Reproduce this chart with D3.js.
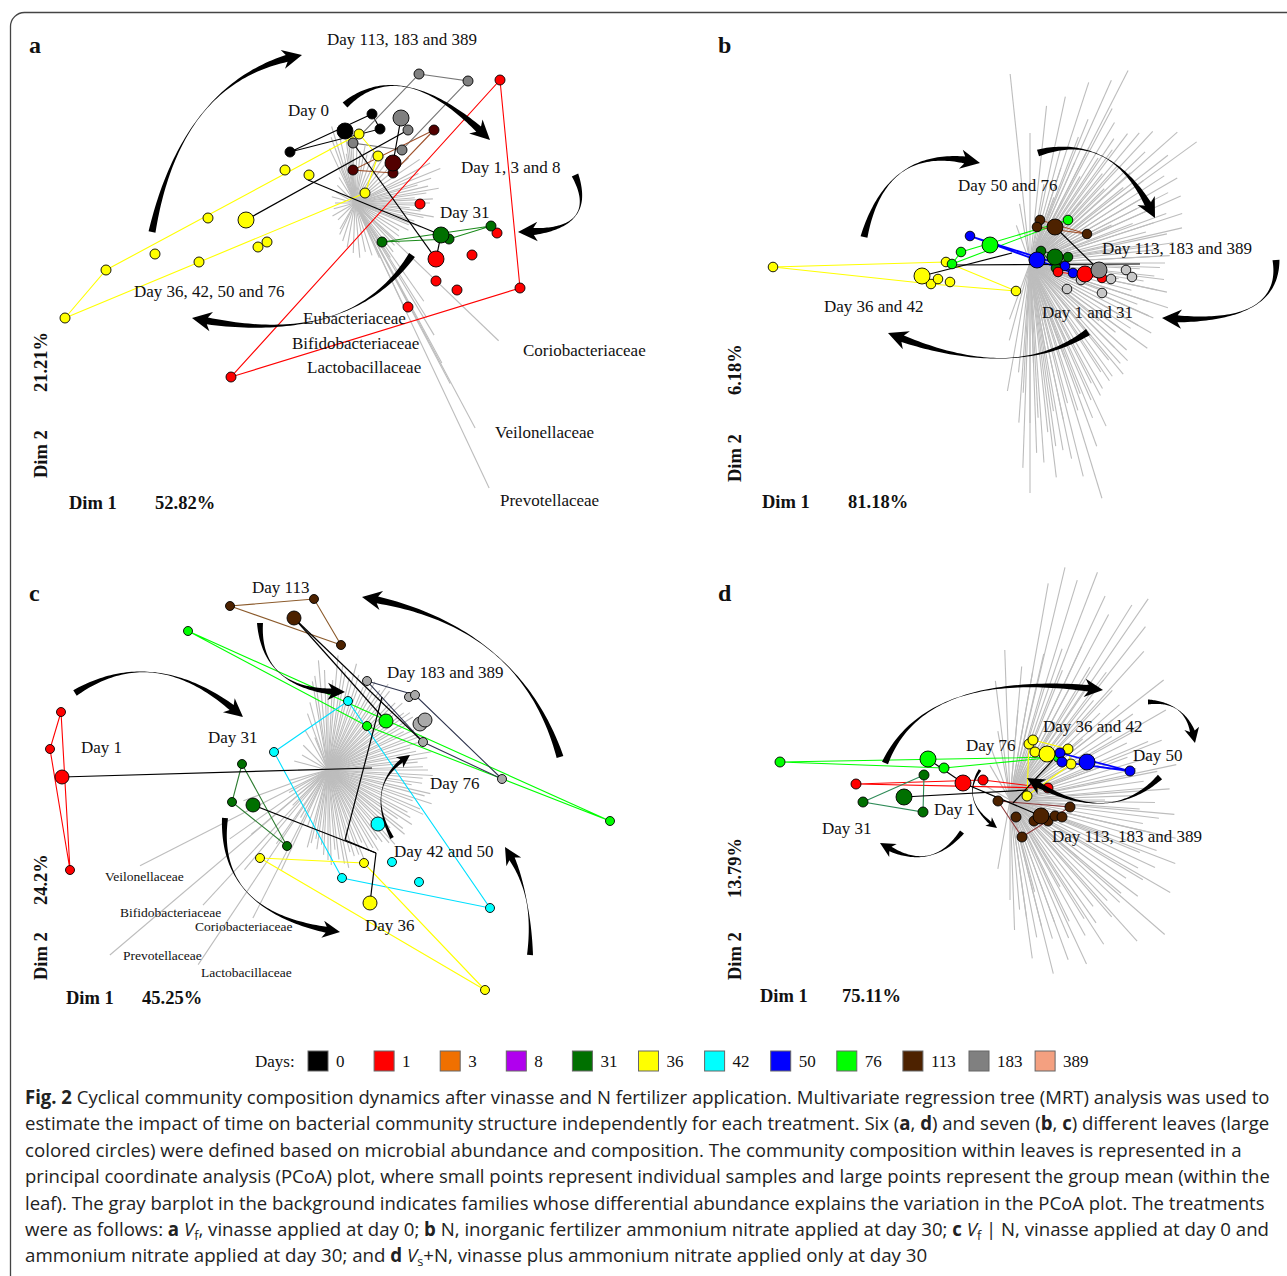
<!DOCTYPE html>
<html>
<head>
<meta charset="utf-8">
<script src="https://cdn.jsdelivr.net/npm/d3@7"></script>
<style>
body { margin: 0; background: #fff; }
text { font-family: "Liberation Serif", "Times New Roman", serif; fill: #111; }
.cap { font-family: "Open Sans", sans-serif; fill: #222; }
</style>
</head>
<body>
<svg id="fig" width="1287" height="1276"></svg>
<script>
// ---- legend levels ----
var dayLevels = ["0", "1", "3", "8", "31", "36", "42", "50", "76", "113", "183", "389"];
var dayColors = ["#000000", "#ff0000", "#f07000", "#b000ee", "#007000", "#ffff00", "#00ffff", "#0000ff", "#00ff00", "#4d2200", "#808080", "#f4a080"];

// ---- panel a : samples [day, dim1, dim2] ----
var aSamples = [
	["0", 0.14, 0.86], ["0", 0.22, 0.71], ["0", -0.68, 0.48],
	["183", 0.61, 1.26], ["183", 1.10, 1.19], ["183", 0.50, 0.70], ["183", 0.44, 0.50], ["183", -0.05, 0.57],
	["113", 0.76, 0.70], ["113", -0.05, 0.30], ["113", 0.35, 0.27],
	["36", 0.01, 0.66], ["36", 0.20, 0.44], ["36", 0.07, 0.07], ["36", -0.73, 0.30], ["36", -0.49, 0.25],
	["36", -1.50, -0.18], ["36", -2.03, -0.54], ["36", -2.52, -0.70], ["36", -2.93, -1.18], ["36", -1.59, -0.62],
	["36", -1.00, -0.47], ["36", -0.91, -0.42],
	["1", 1.42, 1.20], ["1", 0.62, -0.04], ["1", 1.39, -0.33], ["1", 1.14, -0.55], ["1", 0.78, -0.81],
	["1", 0.99, -0.90], ["1", 1.62, -0.88], ["1", 0.50, -1.07], ["1", -1.27, -1.77],
	["31", 0.24, -0.42], ["31", 1.33, -0.26], ["31", 0.91, -0.39]
];
var aMeans = [["0", -0.13, 0.69], ["183", 0.43, 0.82], ["113", 0.35, 0.37], ["36", -1.12, -0.20], ["31", 0.83, -0.35], ["1", 0.78, -0.59]];
var aHulls = [
	["0", [[0.14, 0.86], [0.22, 0.71], [-0.68, 0.48]]],
	["183", [[0.61, 1.26], [1.10, 1.19], [0.44, 0.50], [-0.05, 0.57]]],
	["113", [[0.76, 0.70], [-0.05, 0.30], [0.35, 0.27]]],
	["36", [[-2.93, -1.18], [-2.52, -0.70], [0.01, 0.66], [0.20, 0.44], [0.07, 0.07]]],
	["1", [[1.42, 1.20], [1.62, -0.88], [-1.27, -1.77]]],
	["31", [[0.24, -0.42], [1.33, -0.26], [0.91, -0.39]]]
];
var aTree = [[-1.12, -0.20, 0.50, 0.70], [-0.50, 0.20, 0.83, -0.35], [-0.05, 0.57, 0.78, -0.59], [0.43, 0.82, 0.35, 0.37], [0.78, -0.59, 0.83, -0.35]];
var aArrows = [
	[-2.06, -0.32, -1.75, 1.23, -0.56, 1.45],
	[-0.13, 0.95, 0.45, 1.47, 1.32, 0.60],
	[2.17, 0.25, 2.42, -0.33, 1.60, -0.32],
	[0.54, -0.55, -0.10, -1.50, -1.66, -1.18]
];
// family loadings [angle in degrees, length]
var aFan = [
	[92, 0.65], [96, 0.58], [88, 0.6], [100, 0.5], [84, 0.52], [104, 0.42], [80, 0.58], [76, 0.5],
	[107, 0.8], [103, 0.78], [110, 0.7], [115, 0.6], [98, 0.72], [94, 0.75],
	[70, 0.55], [64, 0.48], [58, 0.55], [52, 0.5], [46, 0.6], [40, 0.7], [34, 0.78], [28, 0.85], [22, 0.92],
	[18, 0.8], [13, 0.75], [8, 0.72], [3, 0.78], [-2, 0.7], [-7, 0.66], [-12, 0.7], [-17, 0.62], [-22, 0.58],
	[-27, 0.6], [-32, 0.52], [-37, 0.55], [-42, 0.6], [-47, 0.58], [-52, 0.62],
	[25, 0.7], [16, 0.65], [10, 0.85], [5, 0.6], [0, 0.75], [-5, 0.55], [-10, 0.8], [-15, 0.5], [-20, 0.7],
	[-57, 0.65], [-66, 0.6], [-72, 0.55], [-78, 0.5], [-85, 0.55], [-92, 0.5], [-100, 0.45], [-108, 0.4], [-116, 0.35],
	[112, 0.38], [122, 0.3], [135, 0.25], [150, 0.22], [165, 0.24], [180, 0.2], [195, 0.22], [210, 0.26], [225, 0.24], [240, 0.3],
	[-43.8, 1.99], [-61.9, 2.55], [-64.8, 3.15], [-62.2, 2.04], [-59.1, 1.54], [-61.5, 1.82], [-64.7, 1.22], [-55, 1.2], [-58, 1.35]
];

// ---- panel b ----
var bSamples = [
	["36", -2.52, -0.05], ["36", -0.79, 0.00], ["36", -0.94, -0.22], ["36", -0.87, -0.17], ["36", -0.75, -0.20], ["36", -0.09, -0.29],
	["76", -0.64, 0.10], ["76", -0.73, -0.02], ["76", 0.43, 0.42],
	["50", -0.55, 0.26], ["50", 0.40, -0.04], ["50", 0.48, -0.11],
	["31", 0.16, 0.11], ["31", 0.43, 0.05], ["31", 0.31, -0.06],
	["1", 0.33, -0.10], ["1", 0.77, -0.16],
	["113", 0.15, 0.42], ["113", 0.12, 0.35], ["113", 0.62, 0.28],
	["183", 1.01, -0.08], ["183", 1.07, -0.15], ["183", 0.86, -0.17], ["183", 0.42, -0.27], ["183", 0.77, -0.31], ["183", 0.56, -0.18]
];
var bMeans = [["36", -1.03, -0.14], ["76", -0.35, 0.17], ["50", 0.12, 0.02], ["31", 0.30, 0.05], ["113", 0.30, 0.35], ["1", 0.60, -0.12], ["183", 0.74, -0.08]];
var bHulls = [
	["36", [[-2.52, -0.05], [-0.79, 0.00], [-0.09, -0.29], [-0.94, -0.22]]],
	["76", [[-0.73, -0.02], [-0.64, 0.10], [0.43, 0.42]]],
	["50", [[-0.55, 0.26], [0.48, -0.11], [0.40, -0.04]]],
	["31", [[0.16, 0.11], [0.43, 0.05], [0.31, -0.06]]],
	["1", [[0.33, -0.10], [0.77, -0.16]]],
	["113", [[0.15, 0.42], [0.62, 0.28], [0.12, 0.35]]]
];
var bTree = [[-1.03, -0.14, -0.13, 0.09], [-0.74, -0.03, 1.15, -0.02], [0.30, 0.35, 0.74, -0.08]];
var bArrows = [
	[-1.61, 0.25, -1.37, 1.22, -0.45, 0.99],
	[0.13, 1.09, 0.89, 1.32, 1.30, 0.44],
	[2.51, 0.02, 2.56, -0.65, 1.37, -0.56],
	[0.63, -0.70, -0.13, -1.22, -1.37, -0.71]
];
var bFan = [
	[96, 1.9], [90, 1.3], [84, 1.58], [78, 1.7], [72, 1.9], [66, 2.0], [63, 2.16], [59, 1.64], [53, 1.62], [47, 1.8],
	[41.6, 1.97], [36, 2.06], [30, 1.7], [24, 1.65], [18, 1.6], [13, 1.56], [8, 1.45], [3, 1.4], [-2, 1.3], [-7, 1.35],
	[-12, 1.4], [-18, 1.45], [-24, 1.35], [-30, 1.4], [-36, 1.45], [-45, 1.38], [-50, 1.45], [-56, 1.42], [-62, 1.5], [-68, 1.67],
	[-73, 2.46], [-76, 2.2], [-80, 1.9], [-83, 2.16], [-86, 2.0], [-90, 2.3], [-94, 1.6], [-100, 1.3],
	[75, 1.2], [72, 1.0], [69, 1.35], [66, 1.1], [63, 1.3], [60, 1.0], [57, 1.25], [54, 1.4], [51, 1.15], [48, 1.3],
	[45, 1.05], [42, 1.35], [39, 1.2], [36, 1.4], [33, 1.1], [30, 1.3], [27, 1.2], [24, 1.35], [21, 1.1], [18, 1.3],
	[15, 1.2], [12, 1.4], [9, 1.15], [6, 1.3], [3, 1.2], [0, 1.35], [-3, 1.1], [-6, 1.25], [-9, 1.15], [-12, 1.3],
	[-15, 1.05], [-18, 1.25], [-21, 1.15], [-24, 1.3], [-27, 1.1], [-30, 1.25], [-33, 1.2], [-36, 1.3], [-39, 1.1], [-42, 1.3],
	[-45, 1.2], [-48, 1.35], [-51, 1.25], [-54, 1.4], [-57, 1.3], [-60, 1.45], [-63, 1.35], [-66, 1.5], [-69, 1.4], [-72, 1.55],
	[-75, 1.45], [-78, 1.6], [-81, 1.5], [-84, 1.7], [-87, 1.55], [-90, 1.6], [-93, 1.3], [-96, 1.1],
	[80, 0.8], [70, 0.7], [50, 0.8], [25, 0.9], [10, 0.85], [-10, 0.9], [-20, 0.8], [-40, 0.9], [-50, 0.95], [-65, 0.85],
	[-70, 1.0], [-80, 0.9], [-88, 1.0], [100, 0.6], [110, 0.4], [-105, 0.8], [-110, 0.6],
	[44, 1.6], [50, 1.7], [56, 1.5], [62, 1.75], [68, 1.55], [38, 1.75], [33, 1.6], [27, 1.55], [20, 1.45],
	[-65, 1.8], [-70, 1.95], [-78, 2.0], [-82, 1.85], [-88, 1.9], [-92, 2.05]
];

// ---- panel c ----
var cSamples = [
	["1", -2.69, 0.58], ["1", -2.80, 0.21], ["1", -2.60, -1.00],
	["113", -1.00, 1.64], ["113", -0.16, 1.71], ["113", 0.11, 1.25],
	["76", -1.42, 1.39], ["76", 0.37, 0.44], ["76", 2.80, -0.51],
	["42", 0.18, 0.69], ["42", -0.56, 0.18], ["42", 0.12, -1.08], ["42", 0.62, -0.92], ["42", 0.89, -1.12], ["42", 1.60, -1.38],
	["31", -0.88, 0.06], ["31", -0.98, -0.32], ["31", -0.43, -0.76],
	["36", -0.70, -0.88], ["36", 0.34, -0.93], ["36", 1.55, -2.20],
	["183", 0.37, 0.89], ["183", 0.79, 0.73], ["183", 0.85, 0.75], ["183", 0.93, 0.28], ["183", 1.72, -0.09]
];
var cMeans = [["1", -2.68, -0.07], ["113", -0.36, 1.52], ["76", 0.56, 0.49], ["42", 0.48, -0.54], ["31", -0.77, -0.35], ["36", 0.40, -1.33], ["183", 0.90, 0.46], ["183", 0.95, 0.50]];
var cHulls = [
	["1", [[-2.69, 0.58], [-2.80, 0.21], [-2.60, -1.00]]],
	["113", [[-1.00, 1.64], [-0.16, 1.71], [0.11, 1.25]]],
	["76", [[-1.42, 1.39], [2.80, -0.51], [0.37, 0.44]]],
	["42", [[0.18, 0.69], [-0.56, 0.18], [0.12, -1.08], [1.60, -1.38]]],
	["31", [[-0.88, 0.06], [-0.98, -0.32], [-0.43, -0.76]]],
	["36", [[-0.70, -0.88], [0.34, -0.93], [1.55, -2.20]]],
	["183", [[0.37, 0.89], [0.85, 0.75], [1.72, -0.09], [0.93, 0.28]]]
];
var cTree = [[-2.68, -0.07, 0.42, 0.02], [-0.36, 1.52, 0.56, 0.49], [-0.36, 1.52, 0.93, 0.28], [0.52, 0.73, 0.15, -0.70],
	[0.15, -0.70, 0.46, -0.83], [0.46, -0.83, 0.40, -1.33], [-0.77, -0.35, 0.46, -0.83]];
var cArrows = [
	[-2.55, 0.77, -1.73, 1.29, -0.87, 0.53],
	[-0.70, 1.47, -0.69, 0.78, 0.15, 0.78],
	[2.30, 0.13, 1.89, 1.47, 0.32, 1.73],
	[0.62, -0.68, 0.33, -0.14, 0.80, 0.15],
	[2.00, -1.85, 2.03, -1.19, 1.75, -0.77],
	[-1.05, -0.48, -1.13, -1.45, 0.10, -1.62]
];
var cFan = [
	[110, 0.6], [100, 0.9], [95, 1.1], [90, 0.8], [85, 1.15], [80, 1.0], [75, 1.1], [70, 0.85], [65, 1.0], [60, 0.9],
	[55, 1.05], [50, 0.8], [45, 0.95], [40, 0.85], [35, 1.0], [30, 0.9], [25, 0.95], [20, 1.0], [15, 0.85], [10, 1.05],
	[5, 0.9], [0, 1.0], [-5, 0.95], [-10, 0.85], [-15, 1.0], [-20, 0.9], [-25, 1.05], [-30, 0.95], [-35, 0.85], [-40, 1.0],
	[-45, 0.9], [-50, 0.95], [-55, 0.85], [-60, 0.9], [-65, 0.8], [-70, 0.9], [-75, 0.85], [-80, 0.95], [-85, 0.8], [-90, 0.9],
	[-95, 0.75], [-100, 0.7], [-105, 0.8], [-110, 0.6], [120, 0.45], [135, 0.35], [150, 0.3], [165, 0.35], [180, 0.3],
	[98, 0.95], [92, 1.0], [87, 0.9], [82, 1.05], [77, 0.95], [72, 1.0], [67, 0.9], [62, 1.0], [57, 0.95], [52, 1.0],
	[47, 0.9], [42, 1.0], [37, 0.95], [32, 1.0], [27, 0.85], [22, 0.95], [17, 1.0], [12, 0.9], [7, 1.0], [2, 0.95],
	[-3, 1.05], [-8, 0.95], [-13, 1.05], [-18, 1.09], [-23, 1.0], [-28, 0.9], [-33, 1.0], [-38, 0.95], [-43, 0.85], [-48, 1.0],
	[-53, 0.9], [-58, 0.95], [-63, 0.9], [-68, 0.95], [-73, 0.9], [-78, 1.0], [-83, 0.9], [-88, 0.95], [-93, 0.85], [-98, 0.8], [-103, 0.75],
	[112, 0.35], [105, 0.7],
	[195, 0.4], [210, 0.45], [225, 0.5], [240, 0.55], [200, 0.9], [215, 1.2], [230, 1.3], [245, 1.1], [235, 0.9], [220, 1.0],
	[207, 2.11], [227.2, 1.84], [243.1, 1.66], [220.3, 2.86], [236.3, 2.34]
];

// ---- panel d ----
var dSamples = [
	["76", -2.48, 0.28], ["76", -0.84, 0.22], ["76", 0.30, 0.33],
	["1", -1.72, 0.06], ["1", -0.45, 0.10], ["1", 0.20, 0.02],
	["31", -1.04, 0.15], ["31", -1.65, -0.12], ["31", -1.05, -0.22],
	["36", 0.01, 0.46], ["36", 0.05, 0.50], ["36", 0.07, 0.38], ["36", 0.40, 0.41], ["36", 0.43, 0.26], ["36", -0.01, -0.06],
	["50", 0.32, 0.37], ["50", 0.34, 0.28], ["50", 1.02, 0.19],
	["113", -0.30, -0.11], ["113", 0.42, -0.17], ["113", -0.12, -0.27], ["113", -0.06, -0.47], ["113", 0.06, -0.31],
	["113", 0.20, -0.31], ["113", 0.27, -0.26], ["113", 0.34, -0.27]
];
var dMeans = [["76", -1.00, 0.31], ["1", -0.65, 0.07], ["31", -1.24, -0.07], ["36", 0.19, 0.36], ["50", 0.59, 0.28], ["113", 0.13, -0.26]];
var dHulls = [
	["76", [[-2.48, 0.28], [0.30, 0.33], [-0.84, 0.22]]],
	["1", [[-1.72, 0.06], [-0.45, 0.10], [0.20, 0.02]]],
	["31", [[-1.04, 0.15], [-1.65, -0.12], [-1.05, -0.22]]],
	["36", [[0.05, 0.50], [0.40, 0.41], [0.43, 0.26], [-0.01, -0.06], [0.01, 0.46]]],
	["50", [[0.32, 0.37], [1.02, 0.19], [0.34, 0.28]]],
	["113", [[-0.30, -0.11], [0.42, -0.17], [-0.06, -0.47]]]
];
var dTree = [[-1.00, 0.31, -0.65, 0.07], [-0.65, 0.07, 0.13, -0.26], [-1.24, -0.07, 0.00, 0.00], [-0.15, -0.13, 0.25, 0.30]];
var dArrows = [
	[-1.43, 0.27, -1.02, 1.23, 0.75, 1.00],
	[1.20, 0.88, 1.61, 0.89, 1.67, 0.47],
	[1.32, 0.13, 0.79, -0.39, -0.01, 0.12],
	[-0.48, 0.20, -0.69, -0.11, -0.31, -0.38],
	[-0.66, -0.42, -0.99, -0.85, -1.48, -0.53]
];
var dFan = [
	[76.7, 2.39], [69, 2.44], [55.5, 2.44], [85, 1.34], [62, 2.1], [48, 2.0], [38, 1.95], [30, 1.8], [21.5, 1.63], [12, 1.7],
	[4, 1.6], [-5, 1.65], [-13, 1.7], [-21, 1.77], [-30, 1.85], [-41, 2.05], [-48, 1.9], [-57, 1.72], [-65, 1.81], [-70, 1.7],
	[-76, 1.79], [-82, 1.6], [-88, 1.3], [92, 1.5], [97, 1.2], [80, 2.2], [73, 2.3], [65, 2.25], [58, 2.3], [52, 2.2],
	[80, 1.3], [77, 1.5], [74, 1.2], [71, 1.6], [68, 1.4], [65, 1.7], [62, 1.3], [59, 1.55], [56, 1.4], [53, 1.6],
	[50, 1.3], [47, 1.5], [44, 1.25], [41, 1.45], [38, 1.3], [35, 1.5], [32, 1.2], [29, 1.45], [26, 1.3], [23, 1.5],
	[20, 1.25], [17, 1.45], [14, 1.3], [11, 1.5], [8, 1.35], [5, 1.4], [2, 1.25], [-1, 1.45], [-4, 1.3], [-7, 1.5],
	[-10, 1.35], [-13, 1.45], [-16, 1.3], [-19, 1.55], [-22, 1.4], [-25, 1.6], [-28, 1.45], [-31, 1.55], [-34, 1.4], [-37, 1.6],
	[-40, 1.45], [-43, 1.5], [-46, 1.4], [-49, 1.55], [-52, 1.35], [-55, 1.5], [-58, 1.4], [-61, 1.55], [-64, 1.35], [-67, 1.5],
	[-70, 1.3], [-73, 1.45], [-76, 1.3], [-79, 1.4], [-82, 1.2], [-85, 1.1], [-90, 1.0],
	[85, 0.9], [60, 0.9], [40, 0.95], [20, 1.0], [0, 0.95], [-20, 1.0], [-40, 0.9], [-60, 1.0], [-75, 0.95],
	[100, 0.7], [110, 0.55], [120, 0.4], [-100, 0.7], [150, 0.3]
];

// ---- caption ----
var capLines = [
	[["Fig. 2", "b"], [" Cyclical community composition dynamics after vinasse and N fertilizer application. Multivariate regression tree (MRT) analysis was used to", ""]],
	[["estimate the impact of time on bacterial community structure independently for each treatment. Six (", ""], ["a", "b"], [", ", ""], ["d", "b"], [") and seven (", ""], ["b", "b"], [", ", ""], ["c", "b"], [") different leaves (large", ""]],
	[["colored circles) were defined based on microbial abundance and composition. The community composition within leaves is represented in a", ""]],
	[["principal coordinate analysis (PCoA) plot, where small points represent individual samples and large points represent the group mean (within the", ""]],
	[["leaf). The gray barplot in the background indicates families whose differential abundance explains the variation in the PCoA plot. The treatments", ""]],
	[["were as follows: ", ""], ["a", "b"], [" ", ""], ["V", "i"], ["f", "s"], [", vinasse applied at day 0; ", ""], ["b", "b"], [" N, inorganic fertilizer ammonium nitrate applied at day 30; ", ""], ["c", "b"], [" ", ""], ["V", "i"], ["f", "s"], [" | N, vinasse applied at day 0 and", ""]],
	[["ammonium nitrate applied at day 30; and ", ""], ["d", "b"], [" ", ""], ["V", "i"], ["s", "s"], ["+N, vinasse plus ammonium nitrate applied only at day 30", ""]]
];

// ---- layout ----
var panels = [
	{id: "a", cx: 358, cy: 200, fan0: [-0.03, -0.03], samples: aSamples, means: aMeans, hulls: aHulls, tree: aTree, arrows: aArrows, fan: aFan,
		aw: [7, 7, 7, 7], r: 5, R: 8,
		pt: {"113": "#520000"}, mn: {"113": "#520000", "183": "#808080"}, hc: {"113": "#a0522d", "183": "#777777", "31": "#1a8a1a"}},
	{id: "b", cx: 1025, cy: 262, fan0: [0.05, -0.01], samples: bSamples, means: bMeans, hulls: bHulls, tree: bTree, arrows: bArrows, fan: bFan,
		aw: [7, 7, 7, 7], r: 4.8, R: 8,
		pt: {"183": "#c8c8c8"}, mn: {"183": "#8c8c8c"}, hc: {"113": "#a0522d"}},
	{id: "c", cx: 330, cy: 770, fan0: [-0.02, 0], samples: cSamples, means: cMeans, hulls: cHulls, tree: cTree, arrows: cArrows, fan: cFan,
		aw: [6.5, 6, 7, 4, 6, 6], r: 4.5, R: 7,
		pt: {"183": "#a9a9a9"}, mn: {"183": "#a9a9a9"}, hc: {"183": "#30364f", "31": "#2e7d32", "113": "#8b5a2b", "42": "#00e0ff"}},
	{id: "d", cx: 1028, cy: 790, fan0: [-0.18, -0.10], samples: dSamples, means: dMeans, hulls: dHulls, tree: dTree, arrows: dArrows, fan: dFan,
		aw: [6.5, 5, 6, 3, 5], r: 5, R: 8,
		pt: {}, mn: {}, hc: {"113": "#8b3a3a", "31": "#2e8b57"}}
];

var texts = [
	// [text, x, y, size, weight]
	["a", 29, 53, 24, "bold"], ["b", 718, 53, 24, "bold"], ["c", 29, 601, 24, "bold"], ["d", 718, 601, 24, "bold"],
	["Day 113, 183 and 389", 327, 45, 17], ["Day 0", 288, 116, 17], ["Day 1, 3 and 8", 461, 173, 17], ["Day 31", 440, 218, 17],
	["Day 36, 42, 50 and 76", 134, 297, 17], ["Eubacteriaceae", 303, 324, 17], ["Bifidobacteriaceae", 292, 349, 17],
	["Lactobacillaceae", 307, 373, 17], ["Coriobacteriaceae", 523, 356, 17], ["Veilonellaceae", 495, 438, 17], ["Prevotellaceae", 500, 506, 17],
	["Dim 1", 69, 509, 18.5, "bold"], ["52.82%", 155, 509, 18.5, "bold"],
	["Day 50 and 76", 958, 191, 17], ["Day 113, 183 and 389", 1102, 254, 17], ["Day 36 and 42", 824, 312, 17], ["Day 1 and 31", 1042, 318, 17],
	["Dim 1", 762, 508, 18.5, "bold"], ["81.18%", 848, 508, 18.5, "bold"],
	["Day 113", 252, 593, 17], ["Day 183 and 389", 387, 678, 17], ["Day 1", 81, 753, 17], ["Day 31", 208, 743, 17], ["Day 76", 430, 789, 17],
	["Day 42 and 50", 394, 857, 17], ["Day 36", 365, 931, 17],
	["Veilonellaceae", 105, 881, 13.5], ["Bifidobacteriaceae", 120, 917, 13.5], ["Coriobacteriaceae", 195, 931, 13.5],
	["Prevotellaceae", 123, 960, 13.5], ["Lactobacillaceae", 201, 977, 13.5],
	["Dim 1", 66, 1004, 18.5, "bold"], ["45.25%", 142, 1004, 18.5, "bold"],
	["Day 36 and 42", 1043, 732, 17], ["Day 76", 966, 751, 17], ["Day 50", 1133, 761, 17], ["Day 1", 934, 815, 17],
	["Day 31", 822, 834, 17], ["Day 113, 183 and 389", 1052, 842, 17],
	["Dim 1", 760, 1002, 18.5, "bold"], ["75.11%", 842, 1002, 18.5, "bold"]
];
var vtexts = [
	// rotated: [text, x, yStart]
	["Dim 2", 47, 478], ["21.21%", 47, 392],
	["Dim 2", 741, 482], ["6.18%", 741, 395],
	["Dim 2", 47, 980], ["24.2%", 47, 905],
	["Dim 2", 741, 980], ["13.79%", 741, 898]
];
var capWidths = [1245, 1245, 1217, 1245, 1240, 1245, 903];

var svg = d3.select("#fig");
svg.append("rect").attr("width", 1287).attr("height", 1276).attr("fill", "#fff");
svg.append("rect").attr("x", 10.5).attr("y", 12.5).attr("width", 1320).attr("height", 1290)
	.attr("rx", 14).attr("fill", "none").attr("stroke", "#444").attr("stroke-width", 1.3);

var colorOf = d3.scaleOrdinal().domain(dayLevels).range(dayColors);

function arrowPath(P0, C, P1, w) {
	var headLen = w * 1.8 + 3, headHalf = w * 1.1 + 2, wmin = 0.5;
	function B(t) { var u = 1 - t; return [u*u*P0[0] + 2*u*t*C[0] + t*t*P1[0], u*u*P0[1] + 2*u*t*C[1] + t*t*P1[1]]; }
	function D(t) { return [2*(1-t)*(C[0]-P0[0]) + 2*t*(P1[0]-C[0]), 2*(1-t)*(C[1]-P0[1]) + 2*t*(P1[1]-C[1])]; }
	var tEnd = 1;
	for (var t = 1; t > 0; t -= 0.002) {
		var b = B(t);
		if (Math.hypot(b[0]-P1[0], b[1]-P1[1]) >= headLen) { tEnd = t; break; }
	}
	var N = 60, L = [], R = [];
	for (var i = 0; i <= N; i++) {
		var tt = tEnd * i / N, bb = B(tt), dd = D(tt), len = Math.hypot(dd[0], dd[1]);
		var nx = -dd[1] / len, ny = dd[0] / len;
		var s = Math.abs(2 * i / N - 1);
		var wd = wmin + (w - wmin) * Math.pow(s, 1.7);
		L.push([bb[0] + nx*wd/2, bb[1] + ny*wd/2]);
		R.push([bb[0] - nx*wd/2, bb[1] - ny*wd/2]);
	}
	var bE = B(tEnd), ux = P1[0]-bE[0], uy = P1[1]-bE[1], le = Math.hypot(ux, uy);
	ux /= le; uy /= le;
	var hx = bE[0] - ux*headLen*0.25, hy = bE[1] - uy*headLen*0.25;
	var h1 = [hx - uy*headHalf, hy + ux*headHalf], h2 = [hx + uy*headHalf, hy - ux*headHalf];
	var pts = L.concat([h1, P1, h2]).concat(R.slice().reverse());
	return "M" + pts.map(function (p) { return p[0].toFixed(2) + "," + p[1].toFixed(2); }).join("L") + "Z";
}

panels.forEach(function (p) {
	var x = d3.scaleLinear().domain([-1, 1]).range([p.cx - 100, p.cx + 100]);
	var y = d3.scaleLinear().domain([-1, 1]).range([p.cy + 100, p.cy - 100]);
	var g = svg.append("g").attr("class", "panel-" + p.id);
	var rad = Math.PI / 180;

	g.selectAll("line.fan").data(p.fan).join("line").attr("class", "fan")
		.attr("x1", x(p.fan0[0])).attr("y1", y(p.fan0[1]))
		.attr("x2", function (d) { return x(p.fan0[0] + d[1] * Math.cos(d[0] * rad)); })
		.attr("y2", function (d) { return y(p.fan0[1] + d[1] * Math.sin(d[0] * rad)); })
		.attr("stroke", "#bdbdbd").attr("stroke-width", 1.1);

	var line = d3.line().x(function (d) { return x(d[0]); }).y(function (d) { return y(d[1]); });
	g.selectAll("path.hull").data(p.hulls).join("path").attr("class", "hull")
		.attr("d", function (d) { return line(d[1]) + (d[1].length > 2 ? "Z" : ""); })
		.attr("fill", "none")
		.attr("stroke", function (d) { return p.hc[d[0]] || colorOf(d[0]); })
		.attr("stroke-width", function (d) { return d[0] === "50" ? 1.8 : 1.1; });

	g.selectAll("line.tree").data(p.tree).join("line").attr("class", "tree")
		.attr("x1", function (d) { return x(d[0]); }).attr("y1", function (d) { return y(d[1]); })
		.attr("x2", function (d) { return x(d[2]); }).attr("y2", function (d) { return y(d[3]); })
		.attr("stroke", "#000").attr("stroke-width", 1.2);

	g.selectAll("circle.sample").data(p.samples).join("circle").attr("class", "sample")
		.attr("cx", function (d) { return x(d[1]); }).attr("cy", function (d) { return y(d[2]); })
		.attr("r", p.r)
		.attr("fill", function (d) { return p.pt[d[0]] || colorOf(d[0]); })
		.attr("stroke", "#000").attr("stroke-width", 0.9);

	g.selectAll("circle.mean").data(p.means).join("circle").attr("class", "mean")
		.attr("cx", function (d) { return x(d[1]); }).attr("cy", function (d) { return y(d[2]); })
		.attr("r", p.R)
		.attr("fill", function (d) { return p.mn[d[0]] || colorOf(d[0]); })
		.attr("stroke", "#000").attr("stroke-width", 0.9);

	g.selectAll("path.arrow").data(p.arrows).join("path").attr("class", "arrow")
		.attr("d", function (d, i) {
			return arrowPath([x(d[0]), y(d[1])], [x(d[2]), y(d[3])], [x(d[4]), y(d[5])], p.aw[i]);
		})
		.attr("fill", "#000");
});

svg.selectAll("text.lab").data(texts).join("text").attr("class", "lab")
	.attr("x", function (d) { return d[1]; }).attr("y", function (d) { return d[2]; })
	.attr("font-size", function (d) { return d[3] + "px"; })
	.attr("font-weight", function (d) { return d[4] || "normal"; })
	.text(function (d) { return d[0]; });

svg.selectAll("text.vlab").data(vtexts).join("text").attr("class", "vlab")
	.attr("transform", function (d) { return "translate(" + d[1] + "," + d[2] + ") rotate(-90)"; })
	.attr("font-size", "18.5px").attr("font-weight", "bold")
	.text(function (d) { return d[0]; });

// legend
var lg = svg.append("g");
lg.append("text").attr("x", 255).attr("y", 1067).attr("font-size", "17px").text("Days:");
var lx = d3.scaleBand().domain(dayLevels).range([308, 308 + 66.1 * dayLevels.length]);
var items = lg.selectAll("g.item").data(dayLevels).join("g").attr("class", "item");
items.append("rect").attr("x", function (d) { return lx(d); }).attr("y", 1051).attr("width", 20).attr("height", 20)
	.attr("fill", function (d) { return colorOf(d); }).attr("stroke", "#666").attr("stroke-width", 1);
items.append("text").attr("x", function (d) { return lx(d) + 28; }).attr("y", 1067).attr("font-size", "17px")
	.text(function (d) { return d; });

// caption: each line squeezed horizontally to the width it has in the figure
capLines.forEach(function (ln, i) {
	var t = svg.append("text").attr("class", "cap").attr("x", 0).attr("y", 0).attr("font-size", "19px");
	var shifted = false;
	ln.forEach(function (seg) {
		var ts = t.append("tspan").attr("class", "cap").text(seg[0]);
		if (seg[1] === "b") ts.attr("font-weight", "bold");
		if (seg[1] === "i") ts.attr("font-style", "italic");
		if (seg[1] === "s") { ts.attr("font-size", "13px").attr("dy", 4); shifted = true; }
		else if (shifted) { ts.attr("dy", -4); shifted = false; }
	});
	var w = t.node().getComputedTextLength();
	t.attr("transform", "translate(25," + (1104 + i * 26.4) + ") scale(" + (capWidths[i] / w) + ",1)");
});
</script>
</body>
</html>
